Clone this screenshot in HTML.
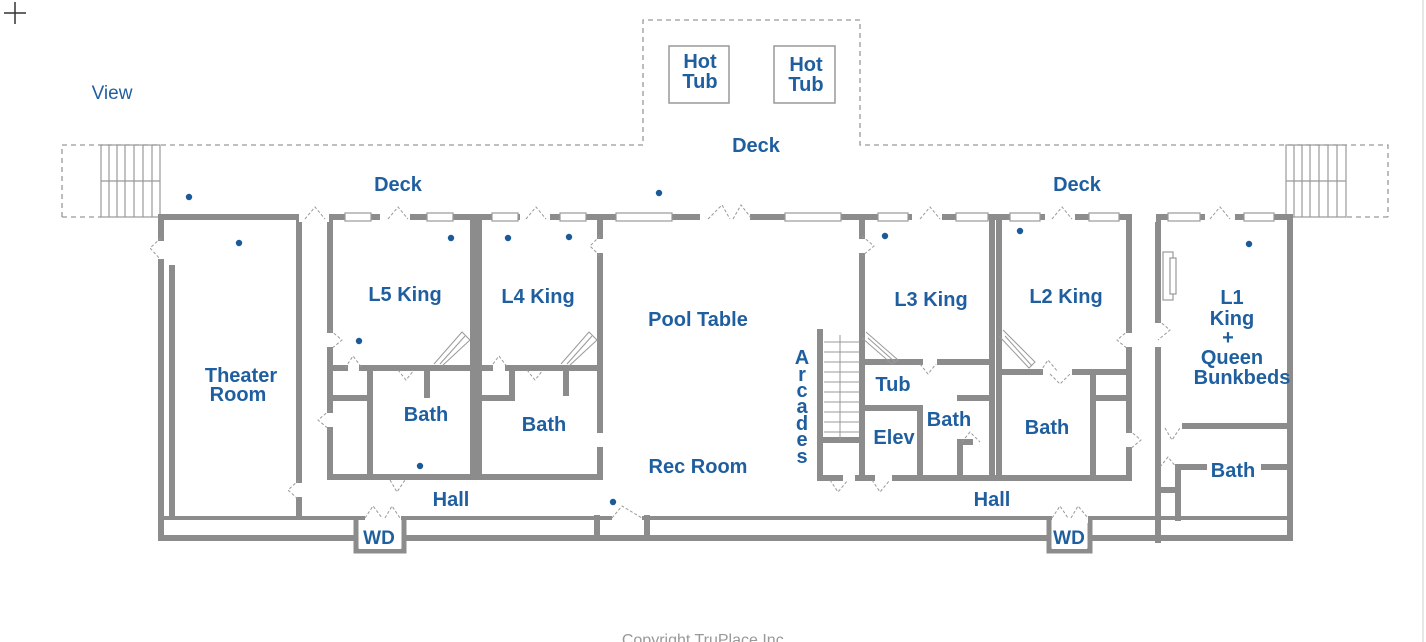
<!DOCTYPE html>
<html><head><meta charset="utf-8"><style>
html,body{margin:0;padding:0;background:#fff;}
svg{display:block}
text{font-family:"Liberation Sans",Arial,sans-serif;font-weight:bold;fill:#1f5f9f;font-size:20px;text-anchor:middle}
</style></head><body>
<svg width="1426" height="642" viewBox="0 0 1426 642" xmlns="http://www.w3.org/2000/svg">
<rect width="1426" height="642" fill="#fff"/>
<line x1="1423" y1="0" x2="1423" y2="642" stroke="#ccc" stroke-width="1"/>
<g stroke="#333" stroke-width="1.5" fill="none"><line x1="4" y1="13" x2="26" y2="13"/><line x1="15" y1="2" x2="15" y2="24"/></g>
<path d="M62 217 V145 H643 V20 H860 V145 H1388 V217" fill="none" stroke="#999" stroke-width="1.3" stroke-dasharray="5,4"/>
<line x1="62" y1="217" x2="101" y2="217" stroke="#999" stroke-width="1.3" stroke-dasharray="5,4"/>
<line x1="1347" y1="217" x2="1388" y2="217" stroke="#999" stroke-width="1.3" stroke-dasharray="5,4"/>
<g stroke="#999" stroke-width="1.2" fill="none">
<rect x="101" y="145" width="59" height="72"/>
<path d="M109 145V217M117 145V217M125 145V217M134 145V217M143 145V217M152 145V217M101 181H160"/>
<rect x="1286" y="145" width="60" height="72"/>
<path d="M1294 145V217M1302 145V217M1310 145V217M1319 145V217M1328 145V217M1337 145V217M1286 181H1346"/>
</g>
<rect x="669" y="46" width="60" height="57" fill="none" stroke="#999" stroke-width="1.5"/>
<rect x="774" y="46" width="61" height="57" fill="none" stroke="#999" stroke-width="1.5"/>
<g stroke="#8c8c8c" stroke-width="6" fill="none" stroke-linecap="square">
<path d="M161 217 H1290"/>
<path d="M161 217 V238 M161 262 V538 H1290 V217"/>
<path d="M172 268 V516"/>
<path d="M161 518 H1290" stroke-width="4"/>
<path d="M299 222 V480 M299 500 V516"/>
<path d="M330 222 V330 M330 350 V410 M330 430 V477 H600 V450"/>
<path d="M473 222 V477 M479 222 V477"/>
<path d="M600 222 V236 M600 256 V430"/>
<path d="M330 368 H345 M362 368 H470 M479 368 H490 M508 368 H600"/>
<path d="M370 370 V477 M330 398 H370 M427 370 V395"/>
<path d="M512 370 V398 H479 M566 370 V393"/>
<path d="M862 222 V236 M862 256 V478 M820 332 V478 H840 M858 478 H872 M895 478 H995"/>
<path d="M862 362 H920 M940 362 H990"/>
<path d="M862 408 H920 V478 M960 398 H990 M960 442 V478 M960 442 H970"/>
<path d="M822 440 H862"/>
<path d="M992 222 V478 M999 222 V478"/>
<path d="M1000 372 H1040 M1075 372 H1129 M1093 372 V478 M1093 398 H1129 M1000 478 H1129"/>
<path d="M1129 222 V330 M1129 350 V430 M1129 450 V478"/>
<path d="M1158 222 V320 M1158 350 V540"/>
<path d="M1185 426 H1288 M1178 467 H1204 M1178 467 V518 M1158 490 H1178"/>
<path d="M1264 467 H1288"/>
<path d="M647 518 V536 M597 518 V536"/>
</g>
<g stroke="#8c8c8c" stroke-width="5" fill="#fff">
<path d="M356 520 V551 H404 V520"/>
<path d="M1049 520 V551 H1090 V520"/>
</g>
<rect x="359" y="521" width="42" height="28" fill="#fff"/>
<rect x="1052" y="521" width="35" height="28" fill="#fff"/>
<g fill="#fff" stroke="#999" stroke-width="1.2">
<rect x="345" y="213" width="26" height="8"/><rect x="427" y="213" width="26" height="8"/>
<rect x="492" y="213" width="26" height="8"/><rect x="560" y="213" width="26" height="8"/>
<rect x="616" y="213" width="56" height="8"/><rect x="785" y="213" width="56" height="8"/>
<rect x="878" y="213" width="30" height="8"/><rect x="956" y="213" width="32" height="8"/>
<rect x="1010" y="213" width="30" height="8"/><rect x="1089" y="213" width="30" height="8"/>
<rect x="1168" y="213" width="32" height="8"/><rect x="1244" y="213" width="30" height="8"/>
<rect x="1163" y="252" width="10" height="48"/><rect x="1170" y="258" width="6" height="36"/>
<rect x="299" y="212" width="30" height="10" stroke="none"/><rect x="380" y="212" width="30" height="10" stroke="none"/>
<rect x="520" y="212" width="30" height="10" stroke="none"/><rect x="700" y="212" width="50" height="10" stroke="none"/>
<rect x="912" y="212" width="30" height="10" stroke="none"/><rect x="1045" y="212" width="30" height="10" stroke="none"/>
<rect x="1132" y="212" width="24" height="10" stroke="none"/><rect x="1205" y="212" width="30" height="10" stroke="none"/>
<rect x="365" y="513" width="36" height="10" stroke="none"/><rect x="612" y="513" width="30" height="10" stroke="none"/>
<rect x="1052" y="513" width="36" height="10" stroke="none"/>
</g>
<g fill="none" stroke="#999" stroke-width="1" stroke-dasharray="3,2">
<path d="M305 219 L315 207 L325 219"/><path d="M388 219 L398 207 L408 219"/>
<path d="M526 219 L536 207 L546 219"/><path d="M708 219 L722 205 L730 219 M733 219 L741 205 L752 219"/>
<path d="M920 219 L930 207 L940 219"/><path d="M1052 219 L1062 207 L1072 219"/><path d="M1210 219 L1220 207 L1230 219"/>
<path d="M161 238 L150 248 L161 260"/><path d="M299 480 L288 490 L299 500"/>
<path d="M330 330 L342 340 L330 350"/><path d="M330 410 L318 420 L330 430"/>
<path d="M345 368 L353 356 L362 368"/><path d="M398 370 L406 380 L414 370"/>
<path d="M490 368 L499 356 L508 368"/><path d="M527 370 L535 380 L543 370"/>
<path d="M600 236 L590 246 L600 256"/><path d="M390 480 L397 492 L405 480"/>
<path d="M365 518 L373 506 L382 518 M385 518 L392 506 L400 518"/><path d="M612 518 L622 506 L642 518"/>
<path d="M862 236 L874 246 L862 256"/><path d="M920 364 L928 374 L936 364"/>
<path d="M872 480 L880 492 L890 480"/><path d="M830 480 L838 492 L848 480"/>
<path d="M962 442 L970 432 L980 442"/><path d="M1050 374 L1060 384 L1070 374"/>
<path d="M1040 372 L1048 360 L1058 372"/><path d="M1129 330 L1117 340 L1129 350"/>
<path d="M1129 430 L1141 440 L1129 450"/><path d="M1158 320 L1170 330 L1158 340"/>
<path d="M1165 428 L1172 440 L1180 428"/><path d="M1160 467 L1168 457 L1176 467"/>
<path d="M1052 518 L1060 506 L1068 518 M1071 518 L1078 506 L1088 518"/>
</g>
<g stroke="#999" stroke-width="1" fill="none">
<path d="M434 364 L462 332 L470 340 L442 366 M440 364 L465 336"/>
<path d="M561 364 L589 332 L597 340 L569 366 M567 364 L592 336"/>
<path d="M866 332 L898 360 L892 364 L862 338 M868 338 L895 362"/>
<path d="M1003 330 L1035 362 L1029 368 L999 336 M1005 336 L1032 366"/>
<path d="M824 342H860M824 352H860M824 362H860M824 372H860M824 382H860M824 392H860M824 402H860M824 412H860M824 422H860M824 432H860M840 335V440"/>
</g>
<g fill="#1b5a99">
<circle cx="189" cy="197" r="3.2"/><circle cx="239" cy="243" r="3.2"/><circle cx="451" cy="238" r="3.2"/>
<circle cx="508" cy="238" r="3.2"/><circle cx="569" cy="237" r="3.2"/><circle cx="359" cy="341" r="3.2"/>
<circle cx="420" cy="466" r="3.2"/><circle cx="659" cy="193" r="3.2"/><circle cx="613" cy="502" r="3.2"/>
<circle cx="885" cy="236" r="3.2"/><circle cx="1020" cy="231" r="3.2"/><circle cx="1249" cy="244" r="3.2"/>
</g>
<text x="112" y="99" style="font-weight:normal;font-size:19px">View</text>
<text x="700" y="68">Hot</text><text x="700" y="88">Tub</text>
<text x="806" y="71">Hot</text><text x="806" y="91">Tub</text>
<text x="756" y="152">Deck</text>
<text x="398" y="191">Deck</text>
<text x="1077" y="191">Deck</text>
<text x="405" y="301">L5 King</text>
<text x="538" y="303">L4 King</text>
<text x="698" y="326">Pool Table</text>
<text x="931" y="306">L3 King</text>
<text x="1066" y="303">L2 King</text>
<text x="1232" y="304">L1</text><text x="1232" y="325">King</text><text x="1228" y="344">+</text>
<text x="1232" y="364">Queen</text><text x="1242" y="384">Bunkbeds</text>
<text x="241" y="382">Theater</text><text x="238" y="401">Room</text>
<text x="426" y="421">Bath</text><text x="544" y="431">Bath</text>
<text x="698" y="473">Rec Room</text>
<text x="893" y="391">Tub</text><text x="894" y="444">Elev</text><text x="949" y="426">Bath</text>
<text x="1047" y="434">Bath</text><text x="1233" y="477">Bath</text>
<text x="451" y="506">Hall</text><text x="992" y="506">Hall</text>
<text x="379" y="544" style="font-size:19px">WD</text><text x="1069" y="544" style="font-size:19px">WD</text>
<g style="font-size:19px"><text x="802" y="364">A</text><text x="802" y="381">r</text><text x="802" y="397">c</text><text x="802" y="413">a</text><text x="802" y="430">d</text><text x="802" y="446">e</text><text x="802" y="463">s</text></g>
<text x="705" y="645" style="font-weight:normal;fill:#999;font-size:16px">Copyright  TruPlace  Inc.</text>
</svg>
</body></html>
